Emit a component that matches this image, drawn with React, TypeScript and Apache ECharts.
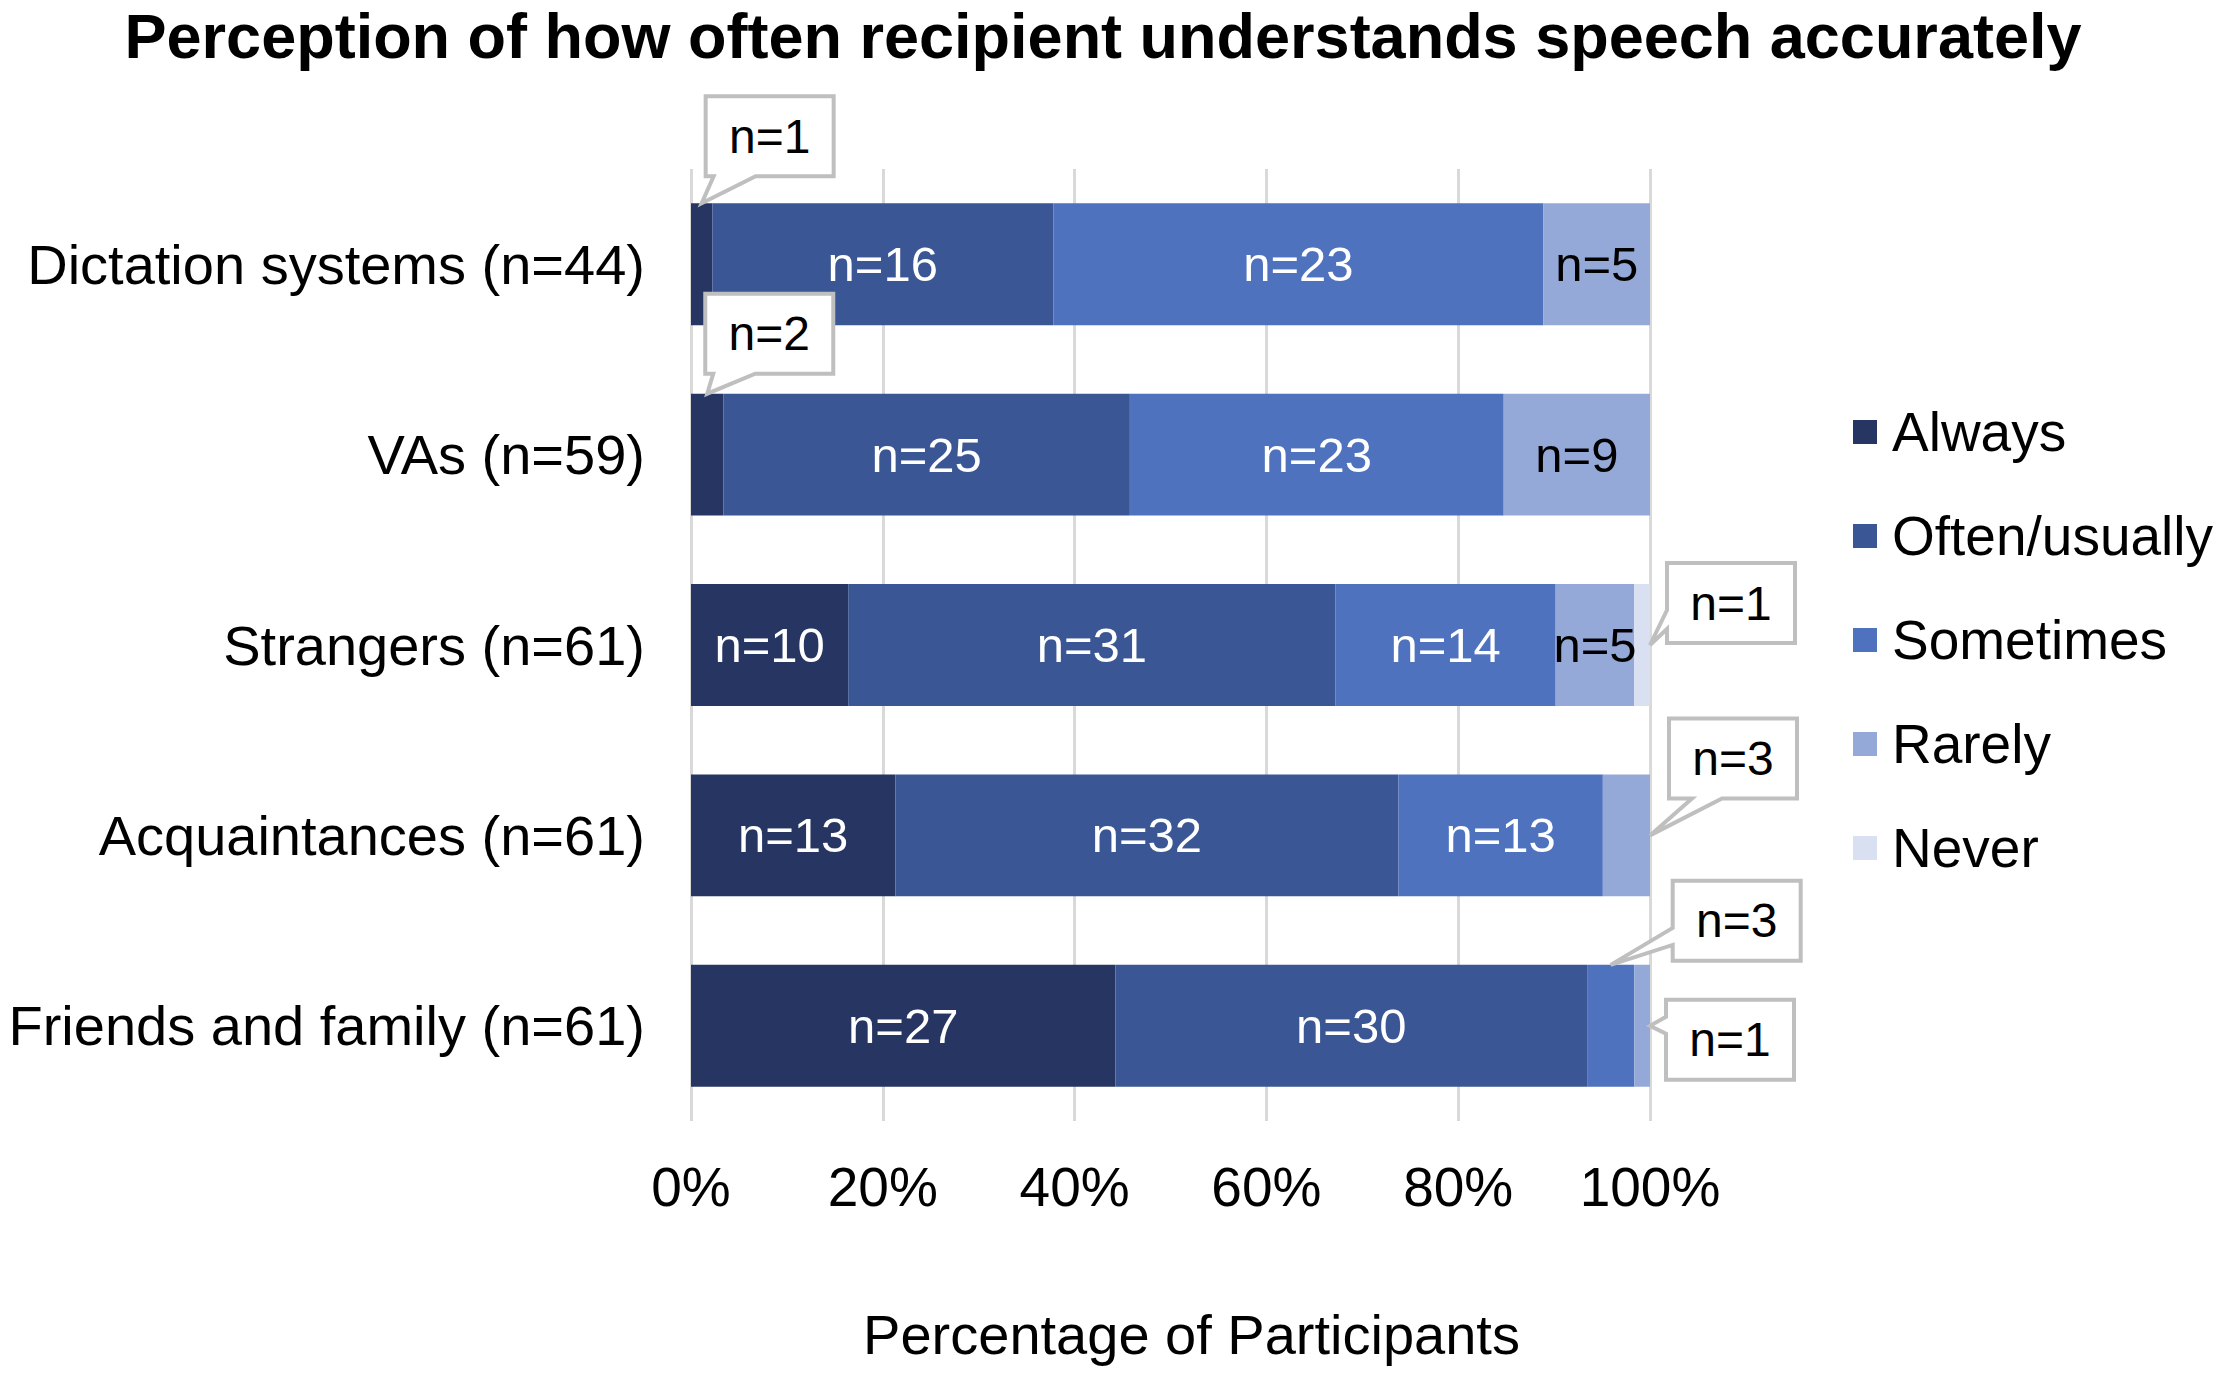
import React, { useEffect, useRef } from "react";
import * as echarts from "echarts";

const categories = [
  "Dictation systems (n=44)",
  "VAs (n=59)",
  "Strangers (n=61)",
  "Acquaintances (n=61)",
  "Friends and family (n=61)",
];
const seriesNames = ["Always", "Often/usually", "Sometimes", "Rarely", "Never"];
const always = [1, 2, 10, 13, 27];
const often = [16, 25, 31, 32, 30];
const sometimes = [23, 23, 14, 13, 3];
const rarely = [5, 9, 5, 3, 1];
const never = [0, 0, 1, 0, 0];
const xTicks = [0, 20, 40, 60, 80, 100];

const counts = [always, often, sometimes, rarely, never];
const colors = ["#263562", "#3a5694", "#4e72bd", "#95a9d8", "#d9e0f1"];
const labelColors = ["#ffffff", "#ffffff", "#ffffff", "#000000", "#000000"];

// callouts: series index, category index, anchor, box offset from tip, wedge side & base
const callouts = [
  { s: 0, c: 0, anchor: "top", dx: 4, dy: -107, side: "bottom", b1: 8, b2: 50 },
  { s: 0, c: 1, anchor: "top", dx: -2, dy: -100, side: "bottom", b1: 8, b2: 50 },
  { s: 4, c: 2, anchor: "right", dx: 17, dy: -82, side: "left", b1: 47, b2: 66 },
  { s: 3, c: 3, anchor: "right", dx: 19, dy: -117, side: "bottom", b1: 23, b2: 53 },
  { s: 2, c: 4, anchor: "top", dx: 62, dy: -84, side: "left", b1: 47, b2: 64 },
  { s: 3, c: 4, anchor: "right", dx: 16, dy: -26, side: "left", b1: 17, b2: 34 },
];

const FONT = '"Liberation Sans", Arial, sans-serif';
const BOX_W = 128;
const BOX_H = 80;

export default function App() {
  const ref = useRef<HTMLDivElement>(null);

  useEffect(() => {
    document.body.style.margin = "0";
    if (!ref.current) return;
    const chart = echarts.init(ref.current, null, { renderer: "svg" });

    const totals = categories.map((_, c) =>
      counts.reduce((acc, arr) => acc + arr[c], 0)
    );
    const isCallout = (s: number, c: number) =>
      callouts.some((k) => k.s === s && k.c === c);

    const series = seriesNames.map((name, s) => ({
      name,
      type: "bar",
      stack: "total",
      barCategoryGap: "36%",
      itemStyle: { color: colors[s] },
      data: counts[s].map((v, c) => (v / totals[c]) * 100),
      label: {
        show: true,
        position: "inside",
        color: labelColors[s],
        fontSize: 49,
        fontFamily: FONT,
        formatter: (p: any) => {
          const v = counts[s][p.dataIndex];
          if (v === 0 || isCallout(s, p.dataIndex)) return "";
          return "n=" + v;
        },
      },
    }));

    chart.setOption({
      animation: false,
      backgroundColor: "#ffffff",
      textStyle: { fontFamily: FONT },
      title: {
        text: "Perception of how often recipient understands speech accurately",
        left: 1103,
        textAlign: "center",
        top: 4,
        padding: 0,
        textStyle: {
          fontFamily: FONT,
          fontWeight: "bold",
          fontSize: 63,
          lineHeight: 63,
          color: "#000000",
        },
      },
      legend: {
        orient: "vertical",
        left: 1853,
        top: 402,
        padding: 0,
        itemWidth: 24,
        itemHeight: 24,
        itemGap: 44,
        icon: "rect",
        data: seriesNames,
        textStyle: {
          fontFamily: FONT,
          fontSize: 55,
          lineHeight: 60,
          color: "#000000",
          padding: [0, 0, 0, 10],
        },
      },
      grid: { left: 691, right: 576, top: 169, bottom: 253, containLabel: false },
      xAxis: {
        type: "value",
        min: xTicks[0],
        max: xTicks[xTicks.length - 1],
        interval: xTicks[1] - xTicks[0],
        axisLine: { show: false },
        axisTick: { show: false },
        axisLabel: {
          formatter: "{value}%",
          fontSize: 55,
          fontFamily: FONT,
          color: "#000000",
          margin: 38,
        },
        splitLine: { show: true, lineStyle: { color: "#d9d9d9", width: 3 } },
        name: "Percentage of Participants",
        nameLocation: "middle",
        nameGap: 185,
        nameTextStyle: {
          fontSize: 56,
          fontFamily: FONT,
          color: "#000000",
          padding: [0, 0, 0, 42],
        },
      },
      yAxis: {
        type: "category",
        data: categories,
        inverse: true,
        axisLine: { show: false },
        axisTick: { show: false },
        axisLabel: {
          fontSize: 56,
          fontFamily: FONT,
          color: "#000000",
          margin: 46,
        },
      },
      series,
    });

    // Build callouts anchored to the data via the chart's own coordinate conversion
    const band = Math.abs(
      (chart.convertToPixel({ gridIndex: 0 }, [0, 1]) as number[])[1] -
        (chart.convertToPixel({ gridIndex: 0 }, [0, 0]) as number[])[1]
    );
    const halfBar = (band * 0.64) / 2;
    const graphics: any[] = [];
    callouts.forEach((k, i) => {
      const total = totals[k.c];
      let start = 0;
      for (let s = 0; s < k.s; s++) start += (counts[s][k.c] / total) * 100;
      const end = start + (counts[k.s][k.c] / total) * 100;
      const pStart = chart.convertToPixel({ gridIndex: 0 }, [start, k.c]) as number[];
      const pEnd = chart.convertToPixel({ gridIndex: 0 }, [end, k.c]) as number[];
      let tip: number[];
      if (k.anchor === "top") {
        tip = [(pStart[0] + pEnd[0]) / 2, pStart[1] - halfBar];
      } else {
        tip = [pEnd[0], pEnd[1]];
      }
      const L = tip[0] + k.dx;
      const T = tip[1] + k.dy;
      let pts: number[][];
      if (k.side === "bottom") {
        pts = [
          [L, T],
          [L + BOX_W, T],
          [L + BOX_W, T + BOX_H],
          [L + k.b2, T + BOX_H],
          tip,
          [L + k.b1, T + BOX_H],
          [L, T + BOX_H],
        ];
      } else {
        pts = [
          [L, T],
          [L + BOX_W, T],
          [L + BOX_W, T + BOX_H],
          [L, T + BOX_H],
          [L, T + k.b2],
          tip,
          [L, T + k.b1],
        ];
      }
      graphics.push({
        type: "polygon",
        id: "callout-box-" + i,
        z: 100,
        shape: { points: pts },
        style: { fill: "#ffffff", stroke: "#bfbfbf", lineWidth: 4, lineJoin: "miter" },
      });
      graphics.push({
        type: "text",
        id: "callout-text-" + i,
        z: 101,
        x: L + BOX_W / 2,
        y: T + BOX_H / 2,
        style: {
          text: "n=" + counts[k.s][k.c],
          fill: "#000000",
          font: "48px " + FONT,
          textAlign: "center",
          textVerticalAlign: "middle",
        },
      });
    });
    chart.setOption({ graphic: graphics });

    return () => chart.dispose();
  }, []);

  return <div ref={ref} style={{ width: 2226, height: 1374 }} />;
}
